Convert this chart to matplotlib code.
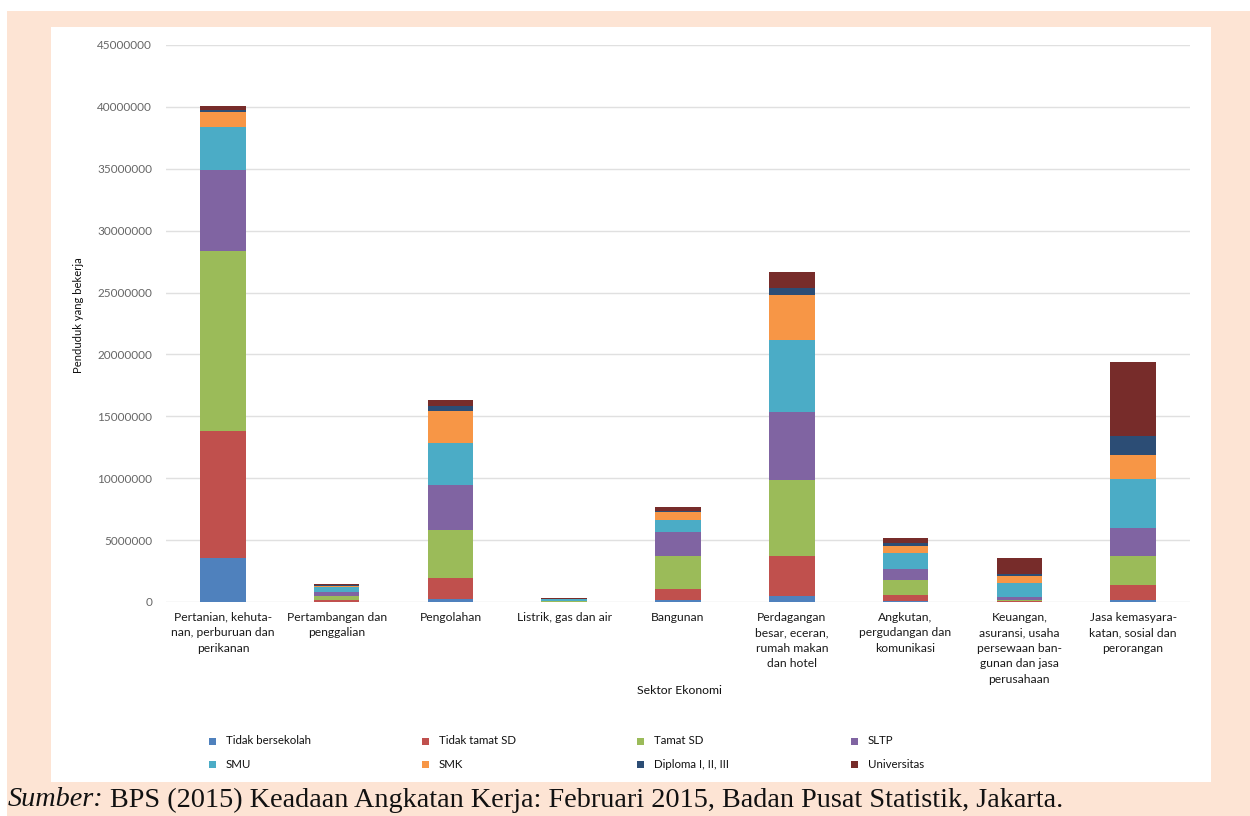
import matplotlib
matplotlib.use("Agg")
import matplotlib.pyplot as plt
from matplotlib.patches import Rectangle
import numpy as np

# Sectors (x categories)
sectors = [
    "Pertanian, kehuta-\nnan, perburuan dan\nperikanan",
    "Pertambangan dan\npenggalian",
    "Pengolahan",
    "Listrik, gas dan air",
    "Bangunan",
    "Perdagangan\nbesar, eceran,\nrumah makan\ndan hotel",
    "Angkutan,\npergudangan dan\nkomunikasi",
    "Keuangan,\nasuransi, usaha\npersewaan ban-\ngunan dan jasa\nperusahaan",
    "Jasa kemasyara-\nkatan, sosial dan\nperorangan",
]

# Workers by education level per sector (persons)
tidak_bersekolah = [3550000, 30000, 250000, 5000, 150000, 480000, 100000, 20000, 200000]
tidak_tamat_sd   = [10250000, 150000, 1700000, 20000, 900000, 3200000, 450000, 50000, 1200000]
tamat_sd         = [14550000, 300000, 3850000, 40000, 2700000, 6200000, 1200000, 100000, 2350000]
sltp             = [6550000, 300000, 3650000, 40000, 1900000, 5500000, 950000, 250000, 2200000]
smu              = [3450000, 400000, 3400000, 100000, 1000000, 5800000, 1250000, 1080000, 3950000]
smk              = [1250000, 150000, 2550000, 40000, 600000, 3600000, 600000, 600000, 2000000]
diploma          = [150000, 50000, 400000, 20000, 100000, 550000, 250000, 150000, 1550000]
universitas      = [300000, 100000, 500000, 40000, 300000, 1300000, 350000, 1280000, 5950000]

series_names = ["Tidak bersekolah", "Tidak tamat SD", "Tamat SD", "SLTP",
                "SMU", "SMK", "Diploma I, II, III", "Universitas"]
series_values = [tidak_bersekolah, tidak_tamat_sd, tamat_sd, sltp,
                 smu, smk, diploma, universitas]
colors = ["#4F81BD", "#C0504D", "#9BBB59", "#8064A2",
          "#4BACC6", "#F79646", "#2C4D75", "#772C2A"]

yticks = np.arange(0, 45000001, 5000000)

FONT = "Lato"
W, H = 1250, 816
fig = plt.figure(figsize=(W / 100, H / 100), dpi=100)
fig.patch.set_facecolor("white")

# Peach page background and white chart panel
fig.add_artist(Rectangle((7 / W, 0), 1 - 7 / W, 1 - 11 / H,
                         transform=fig.transFigure, facecolor="#FDE4D4",
                         edgecolor="none", zorder=-10))
fig.add_artist(Rectangle((51 / W, 1 - 782 / H), (1211 - 51) / W,
                         (782 - 27) / H, transform=fig.transFigure,
                         facecolor="white", edgecolor="none", zorder=-9))

ax = fig.add_axes([166 / W, 1 - 602 / H, (1190 - 166) / W, (602 - 45) / H])
ax.set_facecolor("none")

x = np.arange(len(sectors))
bottom = np.zeros(len(sectors))
for name, vals, c in zip(series_names, series_values, colors):
    v = np.array(vals, dtype=float)
    ax.bar(x, v, width=0.4, bottom=bottom, color=c, label=name, zorder=3)
    bottom += v

ax.set_xlim(-0.5, len(sectors) - 0.5)
ax.set_ylim(0, 45000000)
ax.set_yticks(yticks)
ax.set_yticklabels([str(int(t)) for t in yticks], fontsize=8.5, color="#666666",
                   family=FONT)
ax.set_xticks(x)
ax.set_xticklabels(sectors, fontsize=8.7, color="#1a1a1a", family=FONT,
                   linespacing=1.5, va="top")
ax.tick_params(axis="both", length=0)
ax.tick_params(axis="x", pad=7)
ax.tick_params(axis="y", pad=10)
ax.grid(axis="y", color="#E0E0E0", linewidth=1, zorder=0)
for s in ax.spines.values():
    s.set_visible(False)

fig.text(78 / W, 1 - 315 / H, "Penduduk yang bekerja", fontsize=8.1, family=FONT,
         color="#111111", rotation=90, ha="center", va="center")
fig.text(679 / W, 1 - 691 / H, "Sektor Ekonomi", fontsize=8.8, family=FONT,
         color="#111111", ha="center", va="center")

# Legend: four columns, two rows
col_x = [213, 426, 641, 855]
row_y = [741, 764]
for i, (name, c) in enumerate(zip(series_names, colors)):
    cx = col_x[i % 4]
    cy = row_y[i // 4]
    fig.add_artist(Rectangle(((cx - 4) / W, 1 - (cy + 4) / H), 7 / W, 7 / H,
                             transform=fig.transFigure, facecolor=c,
                             edgecolor="none"))
    fig.text((cx + 13) / W, 1 - cy / H, name, fontsize=8.3, family=FONT,
             color="#111111", ha="left", va="center")

# Source note: italic lead-in followed by the citation
src_size = 20.3
lead = fig.text(8 / W, 1 - 800 / H, "Sumber:", fontsize=src_size, style="italic",
                family="Liberation Serif", color="#111111", ha="left",
                va="center")
fig.canvas.draw()
lead_end = lead.get_window_extent(fig.canvas.get_renderer()).x1
fig.text((lead_end + 6) / W, 1 - 800 / H,
         "BPS (2015) Keadaan Angkatan Kerja: Februari 2015, Badan Pusat Statistik, Jakarta.",
         fontsize=src_size, family="Liberation Serif", color="#111111", ha="left",
         va="center")

fig.savefig("out.png", dpi=100)
